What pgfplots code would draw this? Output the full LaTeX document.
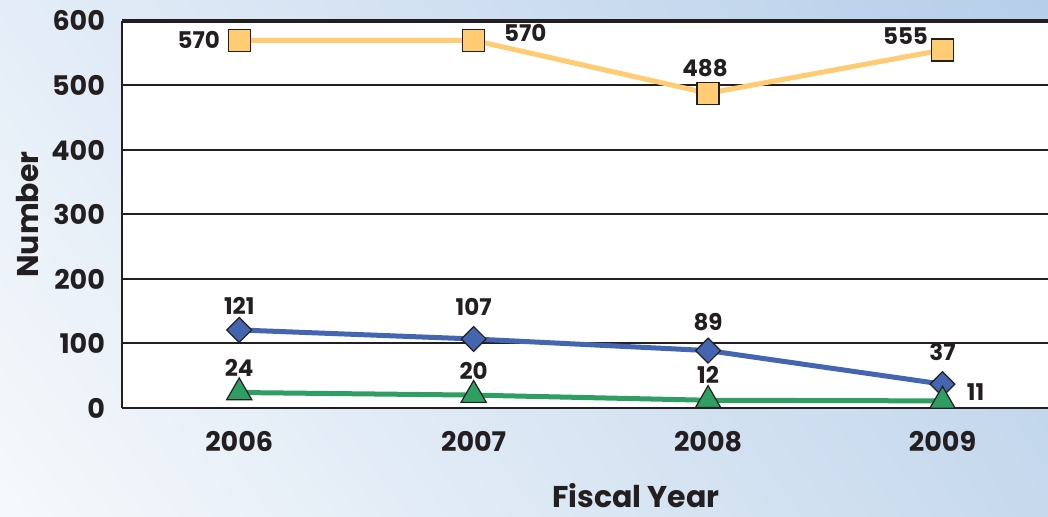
\documentclass[border=0pt]{standalone}
\usepackage{pgfplots}
\pgfplotsset{compat=1.18}
\usetikzlibrary{shadings}
\usepackage{fontspec}
\setmainfont{Poppins}
\definecolor{cOrange}{HTML}{FFCC73}
\definecolor{cBlue}{HTML}{4466B0}
\definecolor{cGreen}{HTML}{2E9E62}
\definecolor{cInk}{HTML}{231F20}
\definecolor{bgUL}{RGB}{228,237,247}
\definecolor{bgUR}{RGB}{182,206,233}
\definecolor{bgLL}{RGB}{246,249,252}
\definecolor{bgLR}{RGB}{198,217,237}

\begin{document}
\begin{tikzpicture}
% page background (1px = 0.5pt)
\shade[upper left=bgUL, upper right=bgUR, lower left=bgLL, lower right=bgLR]
  (-61pt,-54.5pt) rectangle (463pt,204pt);
\path[use as bounding box] (-61pt,-54.5pt) rectangle (463pt,204pt);

\begin{axis}[
    at={(0,0)}, anchor=south west,
    scale only axis,
    width=463pt, height=193.5pt,
    xmin=-0.5, xmax=3.45,
    ymin=0, ymax=600,
    axis background/.style={fill=white},
    axis lines=left,
    axis line style={-, cInk, line width=1pt},
    xtick={0,1,2,3},
    xticklabels={2006,2007,2008,2009},
    ytick={0,100,...,600},
    ymajorgrids,
    grid style={cInk, line width=1pt},
    major tick length=0pt,
    /pgf/number format/assume math mode=true,
    tick label style={font=\fontsize{13.5}{15}\selectfont\bfseries, text=cInk},
    yticklabel style={xshift=-5pt},
    xticklabel style={yshift=-8pt},
    clip=false,
]
% top frame line at 600
\draw[cInk, line width=1.6pt] (rel axis cs:0,1) -- (rel axis cs:1,1);

\addplot[cOrange, line width=2.5pt, mark=square*, mark size=5.5pt,
    mark options={fill=cOrange, draw=cInk, line width=0.6pt}]
    coordinates {(0,570) (1,570) (2,488) (3,555)};

\addplot[cBlue, line width=2.5pt, mark=square*, mark size=4.4pt,
    mark options={fill=cBlue, draw=cInk, line width=0.6pt, rotate=45}]
    coordinates {(0,121) (1,107) (2,89) (3,37)};

\addplot[cGreen, line width=2.5pt, mark=triangle*, mark size=7.3pt,
    mark options={fill=cGreen, draw=cInk, line width=0.6pt}]
    coordinates {(0,24) (1,20) (2,12) (3,11)};

% data labels
\begin{scope}[every node/.style={font=\fontsize{11.5}{13}\selectfont\bfseries, text=cInk, inner sep=0pt}]
\node[anchor=east] at (axis cs:0,570) [xshift=-9.5pt] {570};
\node[anchor=west] at (axis cs:1,570) [xshift=15pt, yshift=3.5pt] {570};
\node at (axis cs:2,488) [xshift=-1.5pt, yshift=12.5pt] {488};
\node at (axis cs:3,555) [xshift=-18.5pt, yshift=7pt] {555};
\node at (axis cs:0,121) [yshift=12pt] {121};
\node at (axis cs:1,107) [yshift=16pt] {107};
\node at (axis cs:2,89) [yshift=14.5pt] {89};
\node at (axis cs:3,37) [yshift=16pt] {37};
\node at (axis cs:0,24) [yshift=12.5pt] {24};
\node at (axis cs:1,20) [yshift=12pt] {20};
\node at (axis cs:2,12) [yshift=12.5pt] {12};
\node at (axis cs:3,11) [xshift=16.5pt, yshift=4.5pt] {11};
\end{scope}

% axis titles
\node[font=\fontsize{15}{17}\selectfont\bfseries, text=cInk, rotate=90, inner sep=0pt]
  at ([xshift=-47pt]rel axis cs:0,0.5) {Number};
\node[font=\fontsize{15}{17}\selectfont\bfseries, text=cInk, inner sep=0pt]
  at ([yshift=-44pt]rel axis cs:0.555,0) {Fiscal Year};
\end{axis}
\end{tikzpicture}
\end{document}
